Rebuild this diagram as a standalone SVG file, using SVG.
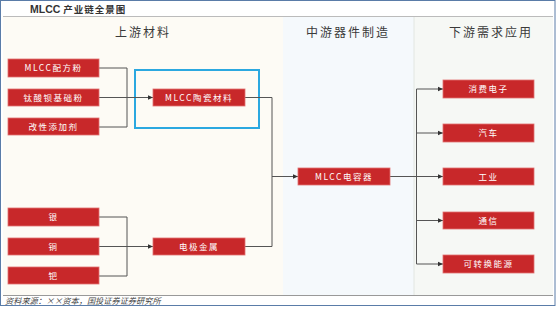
<svg xmlns="http://www.w3.org/2000/svg" width="556" height="311" viewBox="0 0 556 311">
<style>
.box{fill:#c8282a;stroke:#e07070;stroke-width:0.8}
.bt{fill:#fff;font-family:"Noto Sans CJK SC",sans-serif;font-size:8.5px;text-anchor:middle;letter-spacing:1.5px}
.hd{fill:#3a3a3a;font-family:"Noto Sans CJK SC",sans-serif;font-size:12px;text-anchor:middle;letter-spacing:2px}
.ln{fill:none;stroke:#555;stroke-width:1}
</style>
<defs>
<marker id="ar" markerWidth="6" markerHeight="6" refX="5" refY="3" orient="auto" markerUnits="userSpaceOnUse">
<path d="M0,0.8 L5,3 L0,5.2 Z" fill="#333"/>
</marker>
</defs>
<rect x="0" y="0" width="556" height="311" fill="#fff"/>
<rect x="3" y="17" width="280" height="278" fill="#fdfbf5"/>
<rect x="283" y="17" width="131" height="278" fill="#f5f9fc"/>
<rect x="414" y="17" width="139" height="278" fill="#f6f8f5"/>
<line x1="3" y1="16.5" x2="553" y2="16.5" stroke="#bbb" stroke-width="1"/>
<line x1="414" y1="17" x2="414" y2="295" stroke="#e2e6e2" stroke-width="1"/>
<line x1="3" y1="295.5" x2="553" y2="295.5" stroke="#999" stroke-width="1"/>
<rect x="0.5" y="0.5" width="554.5" height="305" fill="none" stroke="#5a7ca8" stroke-width="1"/>
<text x="30" y="13" font-family="Liberation Sans,'Noto Sans CJK SC',sans-serif" font-weight="bold" font-size="10.5" fill="#333">MLCC <tspan font-size="9.5" letter-spacing="1">产业链全景图</tspan></text>
<text class="hd" x="143" y="37">上游材料</text>
<text class="hd" x="348" y="37">中游器件制造</text>
<text class="hd" x="491" y="37">下游需求应用</text>
<rect x="135" y="70" width="124" height="58" fill="none" stroke="#2ba8e0" stroke-width="2"/>
<g id="connectors">
<polyline class="ln" points="99,68 127,68 127,127 99,127"/>
<line class="ln" x1="99" y1="97.5" x2="153" y2="97.5" marker-end="url(#ar)"/>
<polyline class="ln" points="99,217 127,217 127,276 99,276"/>
<line class="ln" x1="99" y1="246.5" x2="153" y2="246.5" marker-end="url(#ar)"/>
<polyline class="ln" points="245,97.5 272,97.5 272,246.5 245,246.5"/>
<line class="ln" x1="272" y1="176.5" x2="298" y2="176.5" marker-end="url(#ar)"/>
<line class="ln" x1="390" y1="176.5" x2="443" y2="176.5" marker-end="url(#ar)"/>
<line class="ln" x1="416.5" y1="89" x2="416.5" y2="264"/>
<line class="ln" x1="416.5" y1="89" x2="443" y2="89" marker-end="url(#ar)"/>
<line class="ln" x1="416.5" y1="133" x2="443" y2="133" marker-end="url(#ar)"/>
<line class="ln" x1="416.5" y1="220.5" x2="443" y2="220.5" marker-end="url(#ar)"/>
<line class="ln" x1="416.5" y1="264" x2="443" y2="264" marker-end="url(#ar)"/>
</g>
<g id="n1"><rect class="box" x="8" y="59" width="91" height="18"/><text class="bt" x="53.5" y="71">MLCC配方粉</text></g>
<g id="n2"><rect class="box" x="8" y="89" width="91" height="17"/><text class="bt" x="53.5" y="100.5">钛酸钡基础粉</text></g>
<g id="n3"><rect class="box" x="8" y="118" width="91" height="17"/><text class="bt" x="53.5" y="129.5">改性添加剂</text></g>
<g id="n4"><rect class="box" x="153" y="89" width="92" height="17"/><text class="bt" x="199" y="100.5">MLCC陶瓷材料</text></g>
<g id="n5"><rect class="box" x="8" y="208" width="91" height="18"/><text class="bt" x="53.5" y="220">银</text></g>
<g id="n6"><rect class="box" x="8" y="238" width="91" height="17"/><text class="bt" x="53.5" y="249.5">铜</text></g>
<g id="n7"><rect class="box" x="8" y="267" width="91" height="17"/><text class="bt" x="53.5" y="278.5">钯</text></g>
<g id="n8"><rect class="box" x="153" y="238" width="92" height="17"/><text class="bt" x="199" y="249.5">电极金属</text></g>
<g id="n9"><rect class="box" x="298" y="168" width="92" height="17"/><text class="bt" x="344" y="179.5">MLCC电容器</text></g>
<g id="n10"><rect class="box" x="443" y="80" width="91" height="18"/><text class="bt" x="488.5" y="92">消费电子</text></g>
<g id="n11"><rect class="box" x="443" y="124" width="91" height="18"/><text class="bt" x="488.5" y="136">汽车</text></g>
<g id="n12"><rect class="box" x="443" y="168" width="91" height="17"/><text class="bt" x="488.5" y="179.5">工业</text></g>
<g id="n13"><rect class="box" x="443" y="212" width="91" height="17"/><text class="bt" x="488.5" y="223.5">通信</text></g>
<g id="n14"><rect class="box" x="443" y="255" width="91" height="18"/><text class="bt" x="488.5" y="267">可转换能源</text></g>
<text x="5" y="304" font-family="'Noto Sans CJK SC',sans-serif" font-size="8.2" font-style="italic" fill="#444">资料来源：××资本，国投证券证券研究所</text>
</svg>
